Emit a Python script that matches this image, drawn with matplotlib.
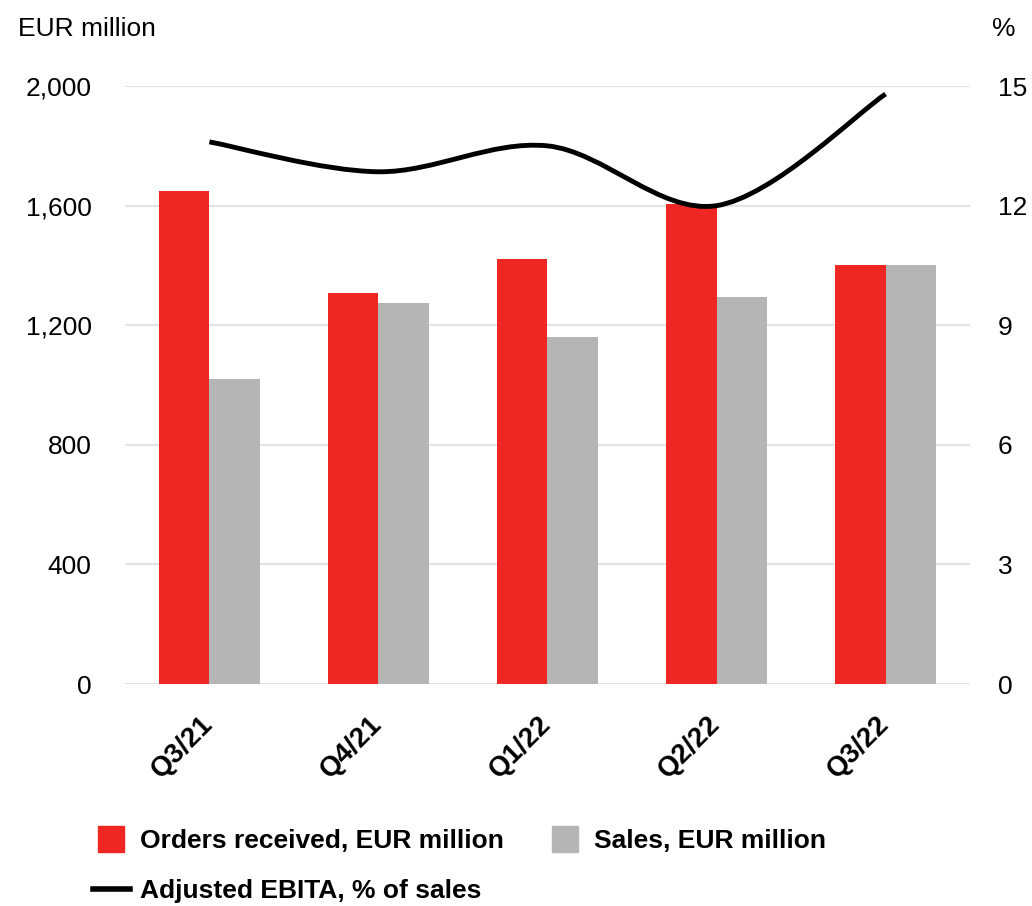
import numpy as np
import matplotlib
matplotlib.use("Agg")
import matplotlib.pyplot as plt
from matplotlib.path import Path
from matplotlib.patches import PathPatch
from matplotlib.lines import Line2D

plt.rcParams["font.family"] = ["Liberation Sans", "DejaVu Sans"]

quarters = ["Q3/21", "Q4/21", "Q1/22", "Q2/22", "Q3/22"]
orders = [1650, 1308, 1421, 1605, 1401]
sales = [1020, 1274, 1160, 1294, 1401]
ebita_pct = [13.6, 12.85, 13.5, 12.0, 14.8]

RED = "#EE2724"
GRAY = "#B5B5B5"
GRID = "#E3E3E3"

fig = plt.figure(figsize=(10.32, 9.06), dpi=100)
ax = fig.add_axes([0.121, 0.245, 0.819, 0.66])
x = np.arange(len(quarters))
w = 0.3

ax.bar(x - w / 2, orders, w, color=RED, zorder=3)
ax.bar(x + w / 2, sales, w, color=GRAY, zorder=3)

ax.set_xlim(-0.5, len(quarters) - 0.5)
ax.set_ylim(0, 2000)
ax.set_yticks(range(0, 2001, 400))
ax.set_yticklabels([f"{v:,}" for v in range(0, 2001, 400)], fontsize=19)
ax.yaxis.grid(True, color=GRID, linewidth=1.5, zorder=0)
for s in ax.spines.values():
    s.set_visible(False)
ax.tick_params(axis="y", length=0, pad=24)
ax.tick_params(axis="x", length=0, pad=26)
ax.set_xticks(x)
ax.set_xticklabels(quarters, rotation=45, ha="right", va="center",
                   rotation_mode="anchor", fontsize=20, fontweight="bold")

ax2 = ax.twinx()
ax2.set_ylim(0, 15)
ax2.set_yticks(range(0, 16, 3))
ax2.set_yticklabels([str(v) for v in range(0, 16, 3)], fontsize=19)
ax2.tick_params(axis="y", length=0, pad=20)
for s in ax2.spines.values():
    s.set_visible(False)

# smoothed line (Catmull-Rom converted to cubic Bezier segments)
pts = np.column_stack([x, ebita_pct]).astype(float)
verts = [tuple(pts[0])]
codes = [Path.MOVETO]
for i in range(len(pts) - 1):
    p0 = pts[i - 1] if i > 0 else pts[i]
    p1, p2 = pts[i], pts[i + 1]
    p3 = pts[i + 2] if i + 2 < len(pts) else pts[i + 1]
    c1 = p1 + (p2 - p0) / 6
    c2 = p2 - (p3 - p1) / 6
    verts += [tuple(c1), tuple(c2), tuple(p2)]
    codes += [Path.CURVE4] * 3
ax2.add_patch(PathPatch(Path(verts, codes), fill=False, edgecolor="black",
                        linewidth=3.5, capstyle="butt", zorder=5, clip_on=False))

fig.text(0.017, 0.96, "EUR million", fontsize=19, va="baseline")
fig.text(0.961, 0.96, "%", fontsize=19, va="baseline")

handles = [
    Line2D([], [], marker="s", linestyle="none", markersize=19, color=RED),
    Line2D([], [], color="black", linewidth=4),
    Line2D([], [], marker="s", linestyle="none", markersize=19, color=GRAY),
]
labels = ["Orders received, EUR million", "Adjusted EBITA, % of sales", "Sales, EUR million"]
leg = fig.legend(handles, labels, ncol=2, loc="upper left",
                 bbox_to_anchor=(0.09, 0.085), frameon=False,
                 prop={"size": 19, "weight": "bold"}, handlelength=1.4,
                 handletextpad=0.4, labelspacing=1.0, columnspacing=1.6,
                 borderaxespad=0, borderpad=0)

fig.savefig("out.png", dpi=100)
